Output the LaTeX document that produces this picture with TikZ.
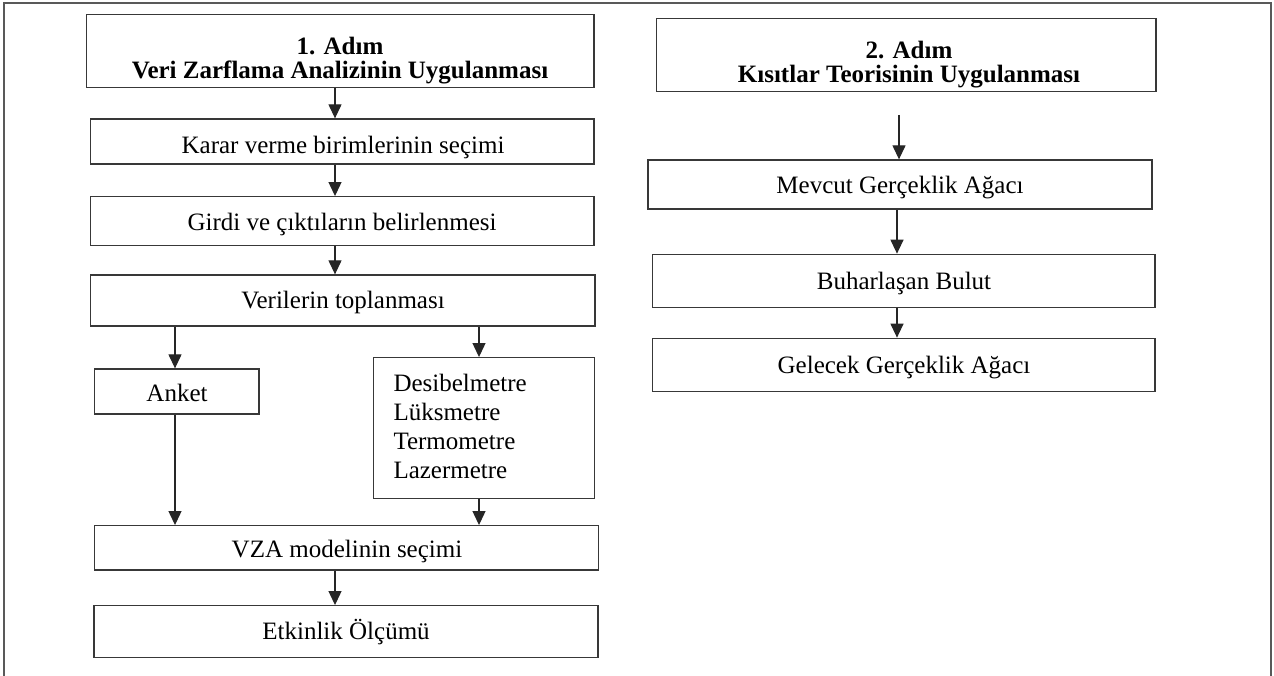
\documentclass[tikz,border=0pt]{standalone}
\usepackage{fontspec}
\setmainfont{Liberation Serif}
\usetikzlibrary{arrows.meta}
\begin{document}
\begin{tikzpicture}[x=1pt,y=-1pt,
  box/.style={draw=black!78, line width=1.3pt, rectangle, inner sep=0pt},
  txt/.style={anchor=base, inner sep=0pt, font=\fontsize{25}{29}\selectfont},
  ttl/.style={anchor=base, inner sep=0pt, font=\fontsize{25}{21}\selectfont\bfseries},
  arr/.style={draw=black!85, line width=1.2pt, -{Triangle[width=13pt,length=14pt]}},
  frame/.style={draw=black!65, line width=2pt}]
\useasboundingbox (0,0) rectangle (1274,676);
\draw[frame] (4,680) -- (4,3) -- (1271,3) -- (1271,680);
% boxes
\node[box, minimum width=507.3pt, minimum height=73.4pt] (b1) at (340.35,51) {};
\node[box, minimum width=499.3pt, minimum height=73pt] (b2) at (906.35,54.8) {};
\node[box, minimum width=503.3pt, minimum height=45pt] (karar) at (342.35,141.5) {};
\node[box, minimum width=503.3pt, minimum height=49pt] (girdi) at (342.35,221.2) {};
\node[box, minimum width=504.3pt, minimum height=51pt] (veri) at (342.85,300.5) {};
\node[box, minimum width=164.3pt, minimum height=45pt] (anket) at (176.85,391.5) {};
\node[box, minimum width=221pt, minimum height=140.6pt] (sensor) at (483.8,428) {};
\node[box, minimum width=503.6pt, minimum height=44.3pt] (vza) at (346.5,547.85) {};
\node[box, minimum width=504pt, minimum height=52pt] (etk) at (346,631.7) {};
\node[box, minimum width=504pt, minimum height=49pt] (mevcut) at (900,184.5) {};
\node[box, minimum width=502.3pt, minimum height=53pt] (buhar) at (903.85,280.8) {};
\node[box, minimum width=502.3pt, minimum height=53.4pt] (gelecek) at (903.85,365) {};
% texts
\node[ttl] (t1a) at (340,54.5) {1. Adım};
\node[ttl] (t1b) at (340,79) {Veri Zarflama Analizinin Uygulanması};
\node[ttl] (t2a) at (909,58.5) {2. Adım};
\node[ttl] (t2b) at (909,83) {Kısıtlar Teorisinin Uygulanması};
\node[txt] (tkarar) at (343,153.3) {Karar verme birimlerinin seçimi};
\node[txt] (tgirdi) at (342,230.7) {Girdi ve çıktıların belirlenmesi};
\node[txt] (tveri) at (343,308.3) {Verilerin toplanması};
\node[txt] (tanket) at (177,401.7) {Anket};
\node[txt, anchor=base west] (ts1) at (393.3,391.7) {Desibelmetre};
\node[txt, anchor=base west] (ts2) at (393.3,420.7) {Lüksmetre};
\node[txt, anchor=base west] (ts3) at (393.3,449.7) {Termometre};
\node[txt, anchor=base west] (ts4) at (393.3,478.3) {Lazermetre};
\node[txt] (tvza) at (347,557.7) {VZA modelinin seçimi};
\node[txt] (tetk) at (346,639.3) {Etkinlik Ölçümü};
\node[txt] (tmev) at (900,193.5) {Mevcut Gerçeklik Ağacı};
\node[txt] (tbuh) at (904,290) {Buharlaşan Bulut};
\node[txt] (tgel) at (904,373) {Gelecek Gerçeklik Ağacı};
% connector columns
\coordinate (xm) at (335,0);
\coordinate (xl) at (175,0);
\coordinate (xr) at (479,0);
\coordinate (xa) at (899,0);
\coordinate (xb) at (897,0);
\coordinate (s2) at (899,115);
% arrows
\draw[arr] (b1.south -| xm) -- (karar.north -| xm);
\draw[arr] (karar.south -| xm) -- (girdi.north -| xm);
\draw[arr] (girdi.south -| xm) -- (veri.north -| xm);
\draw[arr] (veri.south -| xl) -- (anket.north -| xl);
\draw[arr] (veri.south -| xr) -- (sensor.north -| xr);
\draw[arr] (anket.south -| xl) -- (vza.north -| xl);
\draw[arr] (sensor.south -| xr) -- (vza.north -| xr);
\draw[arr] (vza.south -| xm) -- (etk.north -| xm);
\draw[arr] (s2) -- (mevcut.north -| xa);
\draw[arr] (mevcut.south -| xb) -- (buhar.north -| xb);
\draw[arr] (buhar.south -| xb) -- (gelecek.north -| xb);
\end{tikzpicture}
\end{document}
